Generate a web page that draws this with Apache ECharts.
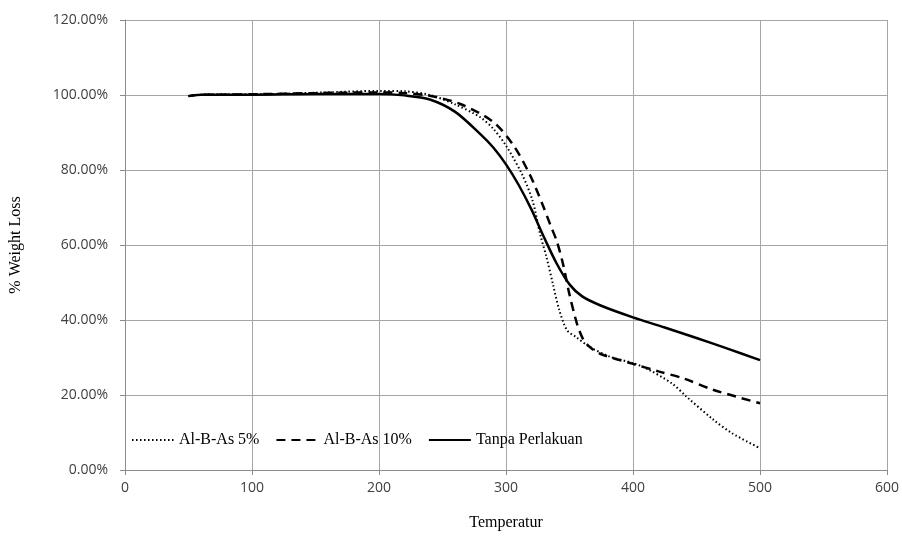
<!DOCTYPE html>
<html><head><meta charset="utf-8">
<script src="https://cdn.jsdelivr.net/npm/echarts@6/dist/echarts.min.js"></script>
<style>html,body{margin:0;padding:0;background:#fff}#c{width:902px;height:536px}</style>
</head><body><div id="c"></div>
<script>
const seriesNames = ['Al-B-As 5%', 'Al-B-As 10%', 'Tanpa Perlakuan'];
const xTicks = [0, 100, 200, 300, 400, 500, 600];
const yTicks = [0, 20, 40, 60, 80, 100, 120];

const tempTanpa = [50, 60, 80, 100, 150, 200, 220, 240, 260, 280, 290, 300, 310, 320, 330, 340, 350, 360, 375, 400, 425, 450, 475, 500];
const valTanpa  = [99.7, 100.1, 100.1, 100.1, 100.3, 100.3, 99.9, 98.8, 95.5, 89.5, 86.0, 81.5, 76.0, 69.5, 62.0, 55.0, 49.5, 46.3, 43.8, 40.7, 38.0, 35.2, 32.3, 29.3];

const temp5 = [50, 60, 80, 100, 150, 200, 220, 240, 260, 280, 290, 300, 313, 321, 327, 332, 337, 342, 348, 355, 366, 382, 400, 411, 431, 442, 463, 478, 500];
const val5  = [99.7, 100.1, 100.2, 100.2, 100.6, 101.1, 101.0, 100.0, 97.5, 94.0, 91.0, 86.5, 78.6, 71.7, 62.7, 56.6, 49.5, 42.6, 37.3, 35.5, 32.8, 30.2, 28.5, 27.0, 23.0, 19.6, 13.5, 9.8, 5.8];

const temp10 = [50, 60, 80, 100, 150, 200, 220, 240, 264, 290, 306, 319, 329, 335, 340, 345, 350, 356, 361, 366, 374, 400, 420, 440, 463, 500];
const val10  = [99.7, 100.1, 100.1, 100.2, 100.5, 100.7, 100.5, 99.8, 97.6, 92.8, 86.5, 78.6, 70.6, 65.3, 61.0, 54.8, 46.8, 38.9, 34.7, 32.8, 31.0, 28.3, 26.3, 24.4, 21.4, 17.8];

function pairs(t, v) { return t.map((x, i) => [x, v[i]]); }

const chart = echarts.init(document.getElementById('c'));
const serif = '"Liberation Serif", "DejaVu Serif", serif';
const sans = '"Open Sans", "Liberation Sans", sans-serif';
chart.setOption({
  animation: false,
  backgroundColor: '#fff',
  grid: { left: 124, right: 15, top: 20, bottom: 62 },
  legend: {
    left: 126, top: 427,
    itemWidth: 42, itemHeight: 14, itemGap: 16,
    itemStyle: { color: 'transparent', borderWidth: 0, opacity: 0 },
    textStyle: { fontFamily: serif, fontSize: 16, color: '#000' },
    data: seriesNames
  },
  xAxis: {
    type: 'value', min: 0, max: 600, interval: 100,
    name: 'Temperatur', nameLocation: 'middle', nameGap: 45,
    nameTextStyle: { fontFamily: serif, fontSize: 16, color: '#000' },
    axisLine: { show: true, lineStyle: { color: '#8c8c8c', width: 1 } },
    axisTick: { show: true, length: 5, lineStyle: { color: '#8c8c8c' } },
    axisLabel: { fontFamily: sans, fontSize: 14, color: '#404040', margin: 11,
      formatter: v => xTicks.includes(v) ? String(v) : '' },
    splitLine: { show: true, lineStyle: { color: '#a6a6a6', width: 1 } }
  },
  yAxis: {
    type: 'value', min: 0, max: 120, interval: 20,
    name: '% Weight Loss', nameLocation: 'middle', nameGap: 101,
    nameTextStyle: { fontFamily: serif, fontSize: 16, color: '#000' },
    axisLine: { show: true, lineStyle: { color: '#8c8c8c', width: 1 } },
    axisTick: { show: true, length: 5, lineStyle: { color: '#8c8c8c' } },
    axisLabel: { fontFamily: sans, fontSize: 14, color: '#404040', margin: 17,
      formatter: v => yTicks.includes(v) ? v.toFixed(2) + '%' : '' },
    splitLine: { show: true, lineStyle: { color: '#a6a6a6', width: 1 } }
  },
  series: [
    { name: seriesNames[0], type: 'line', data: pairs(temp5, val5), symbol: 'none', smooth: 0.3,
      lineStyle: { color: '#000', width: 2, type: [1.5, 2.5] }, itemStyle: { color: '#000' } },
    { name: seriesNames[1], type: 'line', data: pairs(temp10, val10), symbol: 'none', smooth: 0.3,
      lineStyle: { color: '#000', width: 2.5, type: [9, 6] }, itemStyle: { color: '#000' } },
    { name: seriesNames[2], type: 'line', data: pairs(tempTanpa, valTanpa), symbol: 'none', smooth: 0.3,
      lineStyle: { color: '#000', width: 2.5 }, itemStyle: { color: '#000' } }
  ]
});
</script></body></html>
